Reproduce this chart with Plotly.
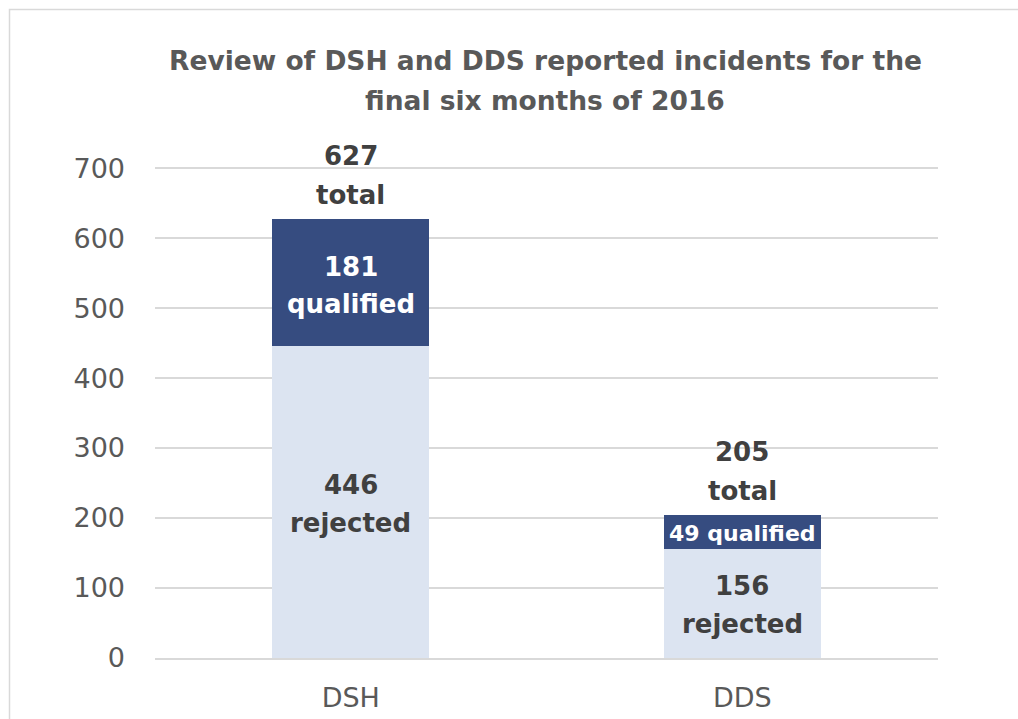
import plotly.graph_objects as go

categories = ["DSH", "DDS"]
rejected = [446, 156]
qualified = [181, 49]
totals = [r + q for r, q in zip(rejected, qualified)]
y_ticks = [0, 100, 200, 300, 400, 500, 600, 700]
title_lines = ["Review of DSH and DDS reported incidents for the", "final six months of 2016"]

FONT = "DejaVu Sans"
DARK = "#364C80"
LIGHT = "#DCE4F1"
LABEL = "#404040"
GREY = "#595959"

L, R, T, B = 155, 80, 166, 61
PW, PH = 1018 - L - R, 719 - T - B

fig = go.Figure()
fig.add_trace(go.Bar(
    x=categories, y=rejected, name="rejected",
    marker=dict(color=LIGHT, line=dict(width=0)),
    hovertemplate="%{x}: %{y} rejected<extra></extra>",
))
fig.add_trace(go.Bar(
    x=categories, y=qualified, name="qualified",
    marker=dict(color=DARK, line=dict(width=0)),
    hovertemplate="%{x}: %{y} qualified<extra></extra>",
))

ann = []


def label(x, y, text, shift, color, size):
    ann.append(dict(
        x=x, y=y, xref="x", yref="y", text=text, showarrow=False,
        xanchor="center", yanchor="middle", yshift=shift,
        font=dict(family=FONT, size=size, color=color, weight="bold"),
    ))


for i, cat in enumerate(categories):
    r_mid = rejected[i] / 2
    q_mid = rejected[i] + qualified[i] / 2
    # rejected segment (two lines)
    label(cat, r_mid, str(rejected[i]), 17, LABEL, 26)
    label(cat, r_mid, "rejected", -21, LABEL, 26)
    # qualified segment
    if i == 0:
        label(cat, q_mid, str(qualified[i]), 16, "white", 26)
        label(cat, q_mid, "qualified", -21, "white", 26)
    else:
        label(cat, q_mid, f"{qualified[i]} qualified", -2, "white", 22)
    # total above bar
    label(cat, totals[i], str(totals[i]), 63, LABEL, 26)
    label(cat, totals[i], "total", 24, LABEL, 26)

# title lines (paper coords relative to plot area)
for line, ypix in zip(title_lines, [60, 100]):
    ann.append(dict(
        x=(545 - L) / PW, y=(719 - B - ypix) / PH, xref="paper", yref="paper",
        text=line, showarrow=False, xanchor="center", yanchor="middle",
        font=dict(family=FONT, size=26.5, color=GREY, weight="bold"),
    ))

fig.update_layout(
    width=1018, height=719,
    barmode="stack", bargap=0.6,
    showlegend=False,
    paper_bgcolor="white", plot_bgcolor="white",
    margin=dict(l=L, r=R, t=T, b=B, autoexpand=False),
    annotations=ann,
    font=dict(family=FONT),
)
fig.update_yaxes(
    range=[0, 703], tickvals=y_ticks,
    showgrid=True, gridcolor="#D9D9D9", gridwidth=1.5,
    zeroline=False, showline=False, automargin=False,
    tickfont=dict(family=FONT, size=27, color=GREY),
    ticklabelstandoff=29,
)
fig.update_xaxes(
    showgrid=False, showline=True, linecolor="#D9D9D9", linewidth=1.5,
    automargin=False,
    tickfont=dict(family=FONT, size=27, color=GREY),
    ticklabelstandoff=15,
)
fig.add_shape(
    type="rect", xref="paper", yref="paper",
    x0=(9.5 - L) / PW, x1=(1040 - L) / PW,
    y0=(719 - B - 740) / PH, y1=(719 - B - 9.5) / PH,
    line=dict(color="#D9D9D9", width=1.5), fillcolor="rgba(0,0,0,0)",
    layer="below",
)

fig.write_html(
    "out.html",
    config={"displayModeBar": False},
    post_script="document.body.style.margin='0';document.body.style.overflow='hidden';",
)
